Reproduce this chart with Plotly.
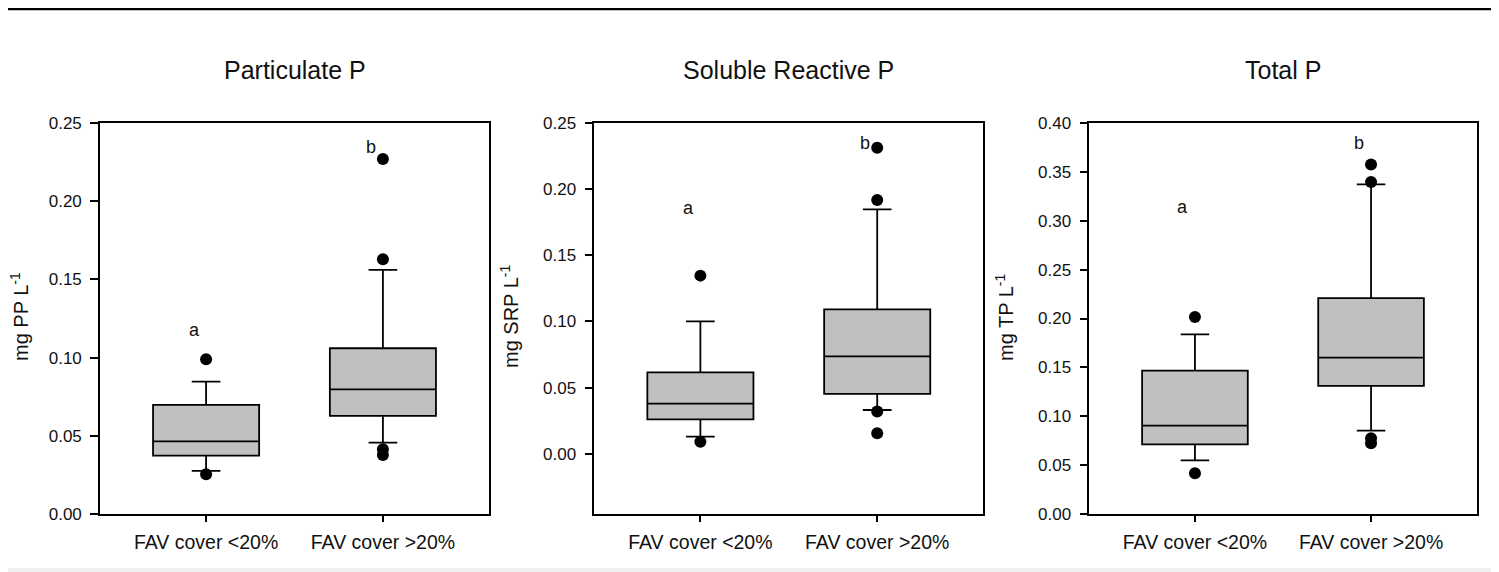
import plotly.graph_objects as go

W, H = 1499, 572
OFF = 8  # page body margin: figure is drawn 8 px right/down of the screen origin

categories = ["FAV cover <20%", "FAV cover >20%"]

titles = ["Particulate P", "Soluble Reactive P", "Total P"]
ytitles = ["mg PP L<sup>-1</sup>", "mg SRP L<sup>-1</sup>", "mg TP L<sup>-1</sup>"]

# Particulate P
pp_q1 = [0.0375, 0.0628]
pp_med = [0.0466, 0.0798]
pp_q3 = [0.0698, 0.1060]
pp_lo = [0.0277, 0.0458]
pp_hi = [0.0847, 0.1560]
pp_out_x = [0, 0, 1, 1, 1, 1]
pp_out_y = [0.0990, 0.0255, 0.2268, 0.1628, 0.0415, 0.0379]
pp_letters = ["a", "b"]
pp_letter_y = [0.1177, 0.2347]

# Soluble Reactive P
srp_q1 = [0.0262, 0.0453]
srp_med = [0.0380, 0.0737]
srp_q3 = [0.0616, 0.1092]
srp_lo = [0.0131, 0.0332]
srp_hi = [0.1001, 0.1846]
srp_out_x = [0, 0, 1, 1, 1, 1]
srp_out_y = [0.1346, 0.0093, 0.2311, 0.1916, 0.0320, 0.0156]
srp_letters = ["a", "b"]
srp_letter_y = [0.1854, 0.2344]

# Total P
tp_q1 = [0.0715, 0.1311]
tp_med = [0.0905, 0.1600]
tp_q3 = [0.1467, 0.2209]
tp_lo = [0.0551, 0.0854]
tp_hi = [0.1838, 0.3370]
tp_out_x = [0, 0, 1, 1, 1, 1]
tp_out_y = [0.2015, 0.0419, 0.3574, 0.3394, 0.0776, 0.0725]
tp_letters = ["a", "b"]
tp_letter_y = [0.3135, 0.3789]

y_ranges = [[0, 0.25], [-0.0455, 0.25], [0, 0.40]]
y_ticks = [
    [0.00, 0.05, 0.10, 0.15, 0.20, 0.25],
    [0.00, 0.05, 0.10, 0.15, 0.20, 0.25],
    [0.00, 0.05, 0.10, 0.15, 0.20, 0.25, 0.30, 0.35, 0.40],
]

panels = [
    (pp_q1, pp_med, pp_q3, pp_lo, pp_hi, pp_out_x, pp_out_y, pp_letters, pp_letter_y),
    (srp_q1, srp_med, srp_q3, srp_lo, srp_hi, srp_out_x, srp_out_y, srp_letters, srp_letter_y),
    (tp_q1, tp_med, tp_q3, tp_lo, tp_hi, tp_out_x, tp_out_y, tp_letters, tp_letter_y),
]

# layout geometry (screen pixels)
x_px = [(100, 489), (594.3, 983.3), (1089.3, 1476.7)]
ytitle_px = [19, 509, 1004]
y_top_px, y_bot_px = 122.7, 514.3


def px(xs):
    return (xs - OFF) / W


def py(ys):
    return (H - (ys - OFF)) / H


FONT = "Arial, Liberation Sans, sans-serif"
fig = go.Figure()
annotations = []
layout = {}

for i, (q1, med, q3, lo, hi, ox, oy, letters, ly) in enumerate(panels):
    n = "" if i == 0 else str(i + 1)
    xa, ya = "x" + n, "y" + n
    fig.add_trace(go.Box(
        x=categories, q1=q1, median=med, q3=q3, lowerfence=lo, upperfence=hi,
        xaxis=xa, yaxis=ya, fillcolor="#c0c0c0",
        line=dict(color="black", width=1.8), width=0.6, whiskerwidth=0.27,
        boxpoints=False, showlegend=False, hoverinfo="skip",
    ))
    fig.add_trace(go.Scatter(
        x=[categories[k] for k in ox], y=oy, mode="markers",
        marker=dict(color="black", size=12), xaxis=xa, yaxis=ya,
        showlegend=False, hoverinfo="skip",
    ))
    layout["xaxis" + n] = dict(
        domain=[px(x_px[i][0]), px(x_px[i][1])], anchor=ya, automargin=False,
        type="category", categoryorder="array", categoryarray=categories,
        range=[-0.6, 1.6], showline=True, linecolor="black", linewidth=1.6,
        mirror=True, ticks="outside", ticklen=6, tickwidth=1.6, tickcolor="black",
        showgrid=False, zeroline=False, ticklabelstandoff=3,
        tickfont=dict(family=FONT, size=19.5, color="#111"),
    )
    layout["yaxis" + n] = dict(
        domain=[py(y_bot_px), py(y_top_px)], anchor=xa, automargin=False,
        range=y_ranges[i], tickvals=y_ticks[i], tickformat=".2f",
        showline=True, linecolor="black", linewidth=1.6, mirror=True,
        ticks="outside", ticklen=8, tickwidth=1.6, tickcolor="black",
        showgrid=False, zeroline=False, ticklabelstandoff=5,
        tickfont=dict(family=FONT, size=17, color="#111"),
    )
    # panel title
    annotations.append(dict(
        text=titles[i], xref="paper", yref="paper",
        x=px((x_px[i][0] + x_px[i][1]) / 2), y=py(70),
        showarrow=False, xanchor="center", yanchor="middle",
        font=dict(family=FONT, size=25, color="#111"),
    ))
    # y-axis title
    annotations.append(dict(
        text=ytitles[i], xref="paper", yref="paper",
        x=px(ytitle_px[i]), y=py(317), textangle=-90,
        showarrow=False, xanchor="center", yanchor="middle",
        font=dict(family=FONT, size=20, color="#111"),
    ))
    # significance letters
    for k, (lt, yy) in enumerate(zip(letters, ly)):
        annotations.append(dict(
            text=lt, xref=xa, yref=ya, x=k, y=yy, xshift=-12,
            showarrow=False, xanchor="center", yanchor="middle",
            font=dict(family=FONT, size=18, color="#111"),
        ))

shapes = [
    dict(type="line", xref="paper", yref="paper", x0=0, x1=1, y0=py(9), y1=py(9),
         line=dict(color="black", width=2.5)),
    dict(type="rect", xref="paper", yref="paper", x0=0, x1=1, y0=py(600), y1=py(568),
         fillcolor="#f0f0f0", line=dict(width=0), layer="below"),
]

fig.update_layout(
    width=W, height=H, autosize=False,
    margin=dict(l=0, r=0, t=0, b=0, pad=0, autoexpand=False),
    paper_bgcolor="white", plot_bgcolor="white",
    annotations=annotations, shapes=shapes, **layout,
)

fig.write_html("out.html")
